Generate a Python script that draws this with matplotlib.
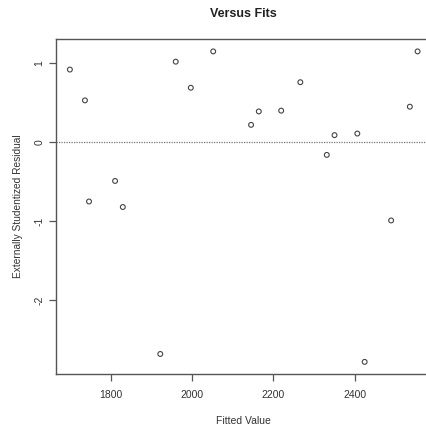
import numpy as np
import matplotlib
matplotlib.use('Agg')
from matplotlib import pyplot as plt

# fitted values and externally studentized residuals
fitted = [1700, 1737, 1747, 1811, 1830, 1922, 1960, 1997, 2052, 2145,
          2164, 2219, 2266, 2331, 2350, 2406, 2424, 2489, 2535, 2554]
resid = [0.92, 0.53, -0.75, -0.49, -0.82, -2.68, 1.02, 0.69, 1.15, 0.22,
         0.39, 0.40, 0.76, -0.16, 0.09, 0.11, -2.78, -0.99, 0.45, 1.15]

xticks = [1800, 2000, 2200, 2400]
yticks = [-2, -1, 0, 1]

plt.rcParams['font.family'] = ['Liberation Sans', 'DejaVu Sans']

fig = plt.figure(figsize=(4.27, 4.26), dpi=100)
ax = fig.add_axes([0.1311, 0.1214, 0.8794, 0.7871])

ax.scatter(fitted, resid, s=12, facecolors='none', edgecolors='#444444', linewidths=0.8, zorder=3)
ax.axhline(0, color='#777777', linestyle=(0, (1, 1)), linewidth=0.9)

# R style limits, 4% padding
xr = max(fitted) - min(fitted)
yr = max(resid) - min(resid)
ax.set_xlim(min(fitted) - 0.04 * xr, max(fitted) + 0.04 * xr)
ax.set_ylim(min(resid) - 0.04 * yr, max(resid) + 0.04 * yr)

ax.set_xticks(xticks)
ax.set_xticklabels([str(t) for t in xticks])
ax.set_yticks(yticks)
ax.set_yticklabels([str(t) for t in yticks], rotation=90, va='center')

for s in ax.spines.values():
    s.set_color('#555555')
    s.set_linewidth(1.0)
ax.tick_params(axis='both', direction='out', length=5, width=0.9, color='#555555',
               labelsize=7.5, labelcolor='#333333')
ax.tick_params(axis='x', pad=6)
ax.tick_params(axis='y', pad=3.5)

ax.set_xlabel('Fitted Value', fontsize=7.5, color='#333333', labelpad=12)
ax.set_ylabel('Externally Studentized Residual', fontsize=7.3, color='#333333', labelpad=8)
ax.set_title('Versus Fits', fontsize=9, fontweight='bold', color='#222222', pad=16)

fig.savefig('out.png', dpi=100)
